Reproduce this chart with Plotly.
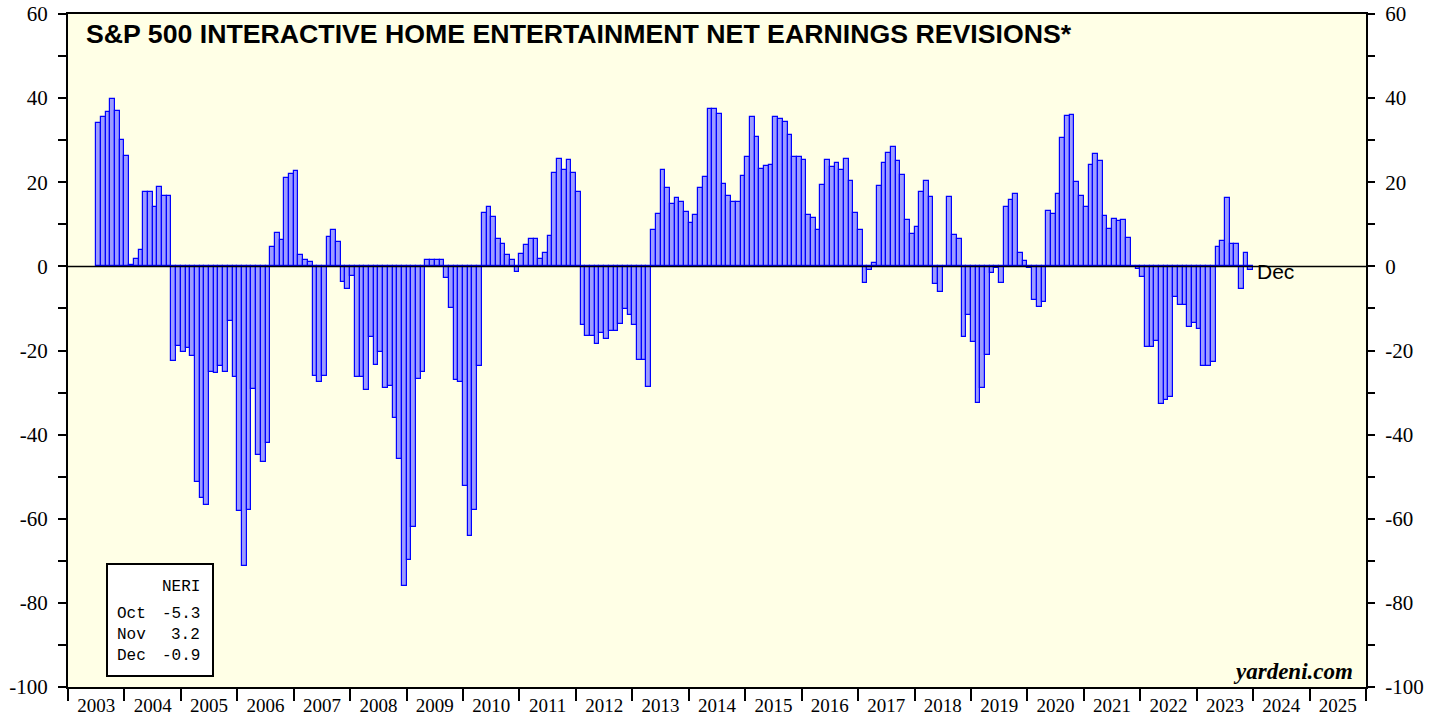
import plotly.graph_objects as go

# ---------------- data (monthly, starting Jul 2003) ----------------
start_year = 2003
start_month = 7
neri_2003 = [34.0, 35.6, 36.7, 39.7, 36.9, 30.0]
neri_2004 = [26.2, 0.3, 1.7, 3.9, 17.8, 17.8, 14.2, 18.8, 16.8, 16.8, -22.6, -18.9]
neri_2005 = [-20.4, -19.5, -21.2, -51.3, -55.1, -56.7, -25.0, -25.3, -23.7, -25.2, -12.9, -26.3]
neri_2006 = [-58.2, -71.2, -57.9, -29.1, -44.8, -46.5, -41.9, 4.7, 7.9, 6.3, 21.1, 22.0]
neri_2007 = [22.6, 2.7, 1.5, 1.1, -26.1, -27.6, -26.0, 7.1, 8.6, 5.7, -3.7, -5.3]
neri_2008 = [-2.4, -26.2, -26.2, -29.5, -16.8, -23.5, -20.4, -28.8, -28.4, -36.0, -45.7, -76.0]
neri_2009 = [-69.9, -62.0, -26.8, -25.2, 1.5, 1.5, 1.5, 1.5, -2.8, -10.0, -27.0, -27.4]
neri_2010 = [-52.1, -64.2, -58.0, -23.6, 12.8, 14.0, 11.7, 6.6, 5.4, 2.8, 1.5, -1.3]
neri_2011 = [2.9, 5.0, 6.4, 6.4, 1.8, 3.1, 7.2, 22.3, 25.5, 22.9, 25.3, 22.1]
neri_2012 = [17.6, -13.9, -16.5, -16.5, -18.5, -15.8, -17.3, -15.3, -15.3, -13.6, -10.2, -11.5]
neri_2013 = [-13.9, -22.3, -22.3, -28.7, 8.6, 12.5, 22.8, 18.7, 14.8, 16.2, 15.4, 13.0]
neri_2014 = [10.4, 12.3, 18.7, 21.3, 37.3, 37.5, 36.2, 19.5, 16.7, 15.3, 15.3, 21.4]
neri_2015 = [25.9, 35.4, 30.8, 23.1, 23.9, 24.2, 35.4, 35.0, 34.3, 31.2, 26.1, 26.1]
neri_2016 = [25.3, 12.3, 11.4, 8.7, 19.4, 25.3, 23.7, 24.5, 22.9, 25.5, 20.4, 12.8]
neri_2017 = [8.7, -3.9, -0.9, 0.9, 19.1, 24.5, 26.9, 28.4, 25.1, 21.8, 11.0, 7.6]
neri_2018 = [9.4, 17.8, 20.3, 16.6, -4.3, -6.1, 0.0, 16.4, 7.4, 6.4, -16.9, -11.5]
neri_2019 = [-18.0, -32.4, -29.0, -21.1, -1.5, -0.5, -3.9, 14.0, 15.9, 17.1, 3.1, 1.2]
neri_2020 = [-0.3, -8.0, -9.6, -8.4, 13.2, 12.4, 17.1, 30.5, 35.8, 36.0, 20.1, 16.7]
neri_2021 = [14.0, 24.0, 26.6, 25.0, 11.9, 9.0, 11.3, 10.7, 11.0, 6.7, 0.2, -0.7]
neri_2022 = [-2.6, -19.2, -19.2, -17.7, -32.7, -31.8, -31.0, -7.2, -9.3, -9.2, -14.3, -13.5]
neri_2023 = [-15.0, -23.7, -23.7, -22.7, 4.5, 6.0, 16.2, 5.3, 5.3, -5.3, 3.2, -0.9]

year_labels = [str(y) for y in range(2003, 2026)]
y_ticks = [-100, -80, -60, -40, -20, 0, 20, 40, 60]
legend_months = ["Oct", "Nov", "Dec"]
title_text = "S&P 500 INTERACTIVE HOME ENTERTAINMENT NET EARNINGS REVISIONS*"

# ---------------- build ----------------
values = (neri_2003 + neri_2004 + neri_2005 + neri_2006 + neri_2007 + neri_2008 +
          neri_2009 + neri_2010 + neri_2011 + neri_2012 + neri_2013 + neri_2014 +
          neri_2015 + neri_2016 + neri_2017 + neri_2018 + neri_2019 + neri_2020 +
          neri_2021 + neri_2022 + neri_2023)
xs = [start_year + (start_month - 1 + i + 0.5) / 12 for i in range(len(values))]

W, H = 1440, 717
L, R, T, B = 68, 74, 14, 30
PW, PH = W - L - R, H - T - B


def px(x):
    return (x - L) / PW


def py(y):
    return (H - B - y) / PH


fig = go.Figure()
fig.add_trace(go.Bar(
    x=xs, y=values, width=1 / 12,
    marker=dict(color="#9c9cff", line=dict(color="#0000ff", width=1.2)),
    hoverinfo="x+y", showlegend=False,
))
fig.add_trace(go.Scatter(x=[xs[0]], y=[0], yaxis="y2", mode="markers",
                         marker=dict(opacity=0), showlegend=False, hoverinfo="skip"))

serif = "Liberation Serif, Times New Roman, serif"
tick_font = dict(family=serif, size=21, color="black")
ytext = [str(v) for v in y_ticks]

yax_common = dict(
    range=[-100, 60], tickmode="array", tickvals=y_ticks, ticktext=ytext,
    ticks="outside", ticklen=8, tickwidth=1.5, tickcolor="black",
    minor=dict(dtick=10, tick0=0, ticks="outside", ticklen=8, tickwidth=1.5, tickcolor="black"),
    tickfont=tick_font, ticklabelstandoff=6,
    showgrid=False, zeroline=False, automargin=False,
)

fig.update_layout(
    width=W, height=H,
    margin=dict(l=L, r=R, t=T, b=B, pad=0, autoexpand=False),
    paper_bgcolor="white",
    plot_bgcolor="#ffffe6",
    bargap=0,
    showlegend=False,
    xaxis=dict(
        range=[2003, 2026],
        tickmode="array",
        tickvals=[int(y) + 0.5 for y in year_labels],
        ticktext=year_labels,
        ticks="outside", ticklen=0, tickcolor="rgba(0,0,0,0)",
        tickfont=dict(family=serif, size=19, color="black"), automargin=False,
        minor=dict(tickmode="array", tickvals=list(range(2003, 2027)),
                   ticks="outside", ticklen=12, tickwidth=2, tickcolor="black"),
        showgrid=False, zeroline=False,
        showline=True, linecolor="black", linewidth=2, mirror=True,
    ),
    yaxis=dict(**yax_common, showline=True, linecolor="black", linewidth=2, mirror=True),
    yaxis2=dict(**yax_common, overlaying="y", side="right", showline=False),
)

# zero line on top of bars
fig.add_shape(type="line", xref="paper", yref="y", x0=0, x1=1, y0=0, y1=0,
              line=dict(color="black", width=1.5), layer="above")

# title
fig.add_annotation(text="<b>" + title_text.replace("&", "&amp;") + "</b>",
                   xref="paper", yref="paper", x=px(84), y=py(34),
                   xanchor="left", yanchor="middle", showarrow=False,
                   font=dict(family="Liberation Sans, Arial, sans-serif", size=26.7, color="black"))

# "Dec" label after last bar
fig.add_annotation(text=legend_months[-1], xref="x", yref="y", x=xs[-1] + 0.08, y=0,
                   xanchor="left", yanchor="middle", yshift=-5, showarrow=False,
                   font=dict(family="Liberation Sans, Arial, sans-serif", size=21, color="black"))

# source
fig.add_annotation(text="<b><i>yardeni.com</i></b>", xref="paper", yref="paper",
                   x=px(1355), y=py(671), xanchor="right", yanchor="middle", showarrow=False,
                   font=dict(family=serif, size=23, color="black"))

# legend box
fig.add_shape(type="rect", xref="paper", yref="paper",
              x0=px(107), x1=px(213), y0=py(676), y1=py(564),
              line=dict(color="black", width=2), fillcolor="white", layer="above")
mono = dict(family="Liberation Mono, Courier New, monospace", size=16, color="black")
fig.add_annotation(text="NERI", xref="paper", yref="paper", x=px(202), y=py(587),
                   xanchor="right", yanchor="middle", showarrow=False, font=mono)
for k, (m, v) in enumerate(zip(legend_months, values[-3:])):
    yy = py(614 + 21 * k)
    fig.add_annotation(text=m, xref="paper", yref="paper", x=px(115), y=yy,
                       xanchor="left", yanchor="middle", showarrow=False, font=mono)
    fig.add_annotation(text=f"{v:.1f}", xref="paper", yref="paper", x=px(202), y=yy,
                       xanchor="right", yanchor="middle", showarrow=False, font=mono)

fig.write_html("out.html", config={"displayModeBar": False},
               post_script="document.body.style.margin='0';document.body.style.overflow='hidden';")
